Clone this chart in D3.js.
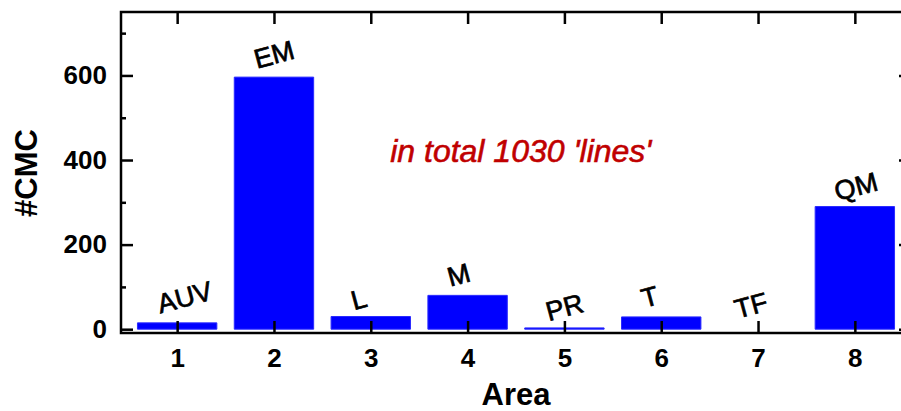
<!DOCTYPE html>
<html>
<head>
<meta charset="utf-8">
<script src="https://cdn.jsdelivr.net/npm/d3@7"></script>
<style>
  html, body { margin: 0; padding: 0; background: #fff; }
  svg { display: block; }
  text { font-family: "Liberation Sans", Arial, Helvetica, sans-serif; }
</style>
</head>
<body>
<svg id="chart" width="901" height="411"></svg>
<script>
// Number of CMC entries per area
const areas = [1, 2, 3, 4, 5, 6, 7, 8];
const areaNames = ["AUV", "EM", "L", "M", "PR", "T", "TF", "QM"];
const cmcCounts = [15, 596, 30, 80, 3, 29, 0, 290];
const yMajorTicks = [0, 200, 400, 600];
const yMinorTicks = [100, 300, 500, 700];
const note = "in total 1030 'lines'";

// Hand placement of the rotated area names (pixel nudges from bar top centre)
const nameDx = [7.5, 0, -12, -9, 0, -11.5, -7, 1];
const nameGap = [26, 23, 17.5, 21, 21, 20.5, 24, 20.5];

const svg = d3.select("#chart");
const frame = { left: 121, right: 911, top: 12, bottom: 333 };

const x = d3.scaleLinear().domain([0.42, 8.58]).range([frame.left, frame.right]);
const y = d3.scaleLinear().domain([-9, 750]).range([frame.bottom, frame.top]);
const barW = 0.82;

// Bars
svg.append("g")
  .selectAll("rect")
  .data(areas)
  .join("rect")
  .attr("x", (d) => x(d - barW / 2))
  .attr("width", x(barW) - x(0))
  .attr("y", (d, i) => y(cmcCounts[i]))
  .attr("height", (d, i) => y(0) - y(cmcCounts[i]))
  .attr("fill", "#0000ff")
  .attr("stroke", "#2a2aff")
  .attr("stroke-width", 1)
  .attr("stroke-linejoin", "round");

// Area names above the bars
svg.append("g")
  .selectAll("text")
  .data(areas)
  .join("text")
  .attr("transform", (d, i) => {
    const cx = x(d) + nameDx[i];
    const cy = y(cmcCounts[i]) - nameGap[i];
    return `translate(${cx},${cy}) rotate(-15)`;
  })
  .attr("dy", "0.36em")
  .attr("text-anchor", "middle")
  .attr("font-size", 27)
  .attr("fill", "#000")
  .attr("stroke", "#000")
  .attr("stroke-width", 0.7)
  .text((d, i) => areaNames[i]);

// Frame and ticks (ticks point inward on all four sides)
const axisColor = "#000";
const frameG = svg.append("g").attr("stroke", axisColor).attr("stroke-width", 2.5).attr("fill", "none");
frameG.append("rect")
  .attr("x", frame.left).attr("y", frame.top)
  .attr("width", frame.right - frame.left).attr("height", frame.bottom - frame.top);

const bottomAxis = d3.axisBottom(x).tickValues(areas).tickSize(-12).tickPadding(16).tickFormat(d3.format("d"));
const topAxis = d3.axisTop(x).tickValues(areas).tickSize(-12).tickFormat("");
const leftAxis = d3.axisLeft(y).tickValues(yMajorTicks).tickSize(-12).tickPadding(14).tickFormat(d3.format("d"));
const leftMinor = d3.axisLeft(y).tickValues(yMinorTicks).tickSize(-5).tickFormat("");
const rightAxis = d3.axisRight(y).tickValues(yMajorTicks).tickSize(-12).tickFormat("");
const rightMinor = d3.axisRight(y).tickValues(yMinorTicks).tickSize(-5).tickFormat("");

function styleAxis(g) {
  g.select(".domain").remove();
  g.selectAll(".tick line").attr("stroke", axisColor).attr("stroke-width", 2.5);
  g.selectAll(".tick text")
    .attr("fill", "#000")
    .attr("font-family", "'Liberation Sans', Arial, sans-serif")
    .attr("font-weight", "bold")
    .attr("font-size", 26);
}

svg.append("g").attr("transform", `translate(0,${frame.bottom})`).call(bottomAxis).call(styleAxis);
svg.append("g").attr("transform", `translate(0,${frame.top})`).call(topAxis).call(styleAxis);
svg.append("g").attr("transform", `translate(${frame.left},0)`).call(leftAxis).call(styleAxis);
svg.append("g").attr("transform", `translate(${frame.left},0)`).call(leftMinor).call(styleAxis);
svg.append("g").attr("transform", `translate(${frame.right},0)`).call(rightAxis).call(styleAxis);
svg.append("g").attr("transform", `translate(${frame.right},0)`).call(rightMinor).call(styleAxis);

// Axis titles
svg.append("text")
  .attr("x", 516).attr("y", 405)
  .attr("text-anchor", "middle")
  .attr("font-size", 31)
  .attr("font-weight", "bold")
  .attr("fill", "#000")
  .text("Area");

svg.append("text")
  .attr("transform", `translate(37,173) rotate(-90)`)
  .attr("text-anchor", "middle")
  .attr("font-size", 31)
  .attr("font-weight", "bold")
  .attr("fill", "#000")
  .text("#CMC");

// Annotation
svg.append("text")
  .attr("x", x(4.55)).attr("y", y(395))
  .attr("text-anchor", "middle")
  .attr("font-size", 32)
  .attr("font-style", "italic")
  .attr("fill", "#c00000")
  .attr("stroke", "#c00000")
  .attr("stroke-width", 0.6)
  .text(note);
</script>
</body>
</html>
